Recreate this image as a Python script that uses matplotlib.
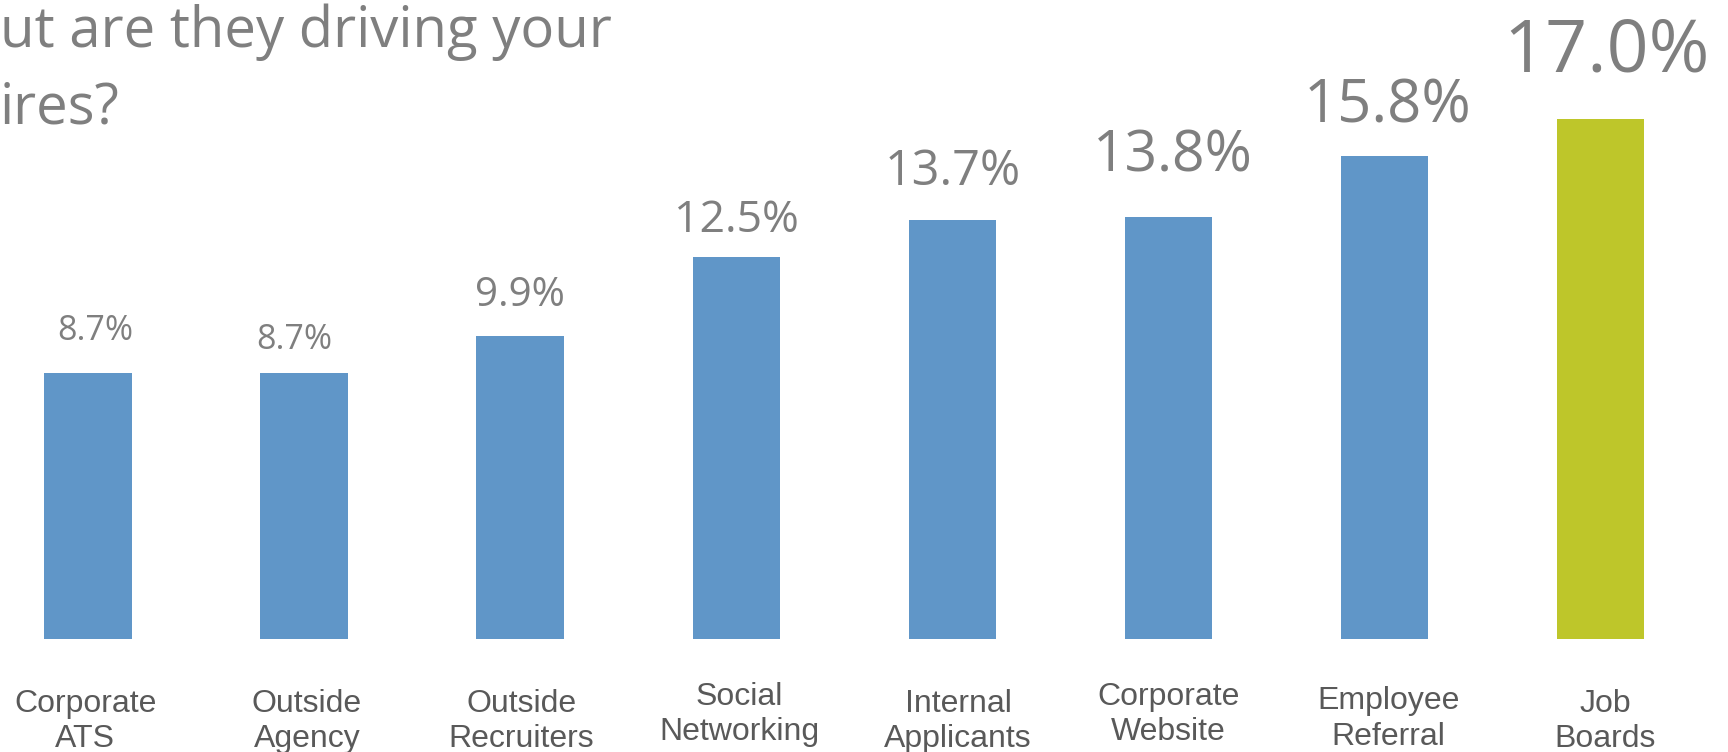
import matplotlib
matplotlib.use("Agg")
import matplotlib.pyplot as plt

# ─── Data ───
categories = ["Corporate\nATS", "Outside\nAgency", "Outside\nRecruiters",
              "Social\nNetworking", "Internal\nApplicants", "Corporate\nWebsite",
              "Employee\nReferral", "Job\nBoards"]
shares = [8.7, 8.7, 9.9, 12.5, 13.7, 13.8, 15.8, 17.0]
value_labels = ["8.7%", "8.7%", "9.9%", "12.5%", "13.7%", "13.8%", "15.8%", "17.0%"]
title_text = "ut are they driving your\nires?"

# ─── Style ───
BLUE = "#6096C8"
GREEN = "#BEC62A"
GRAY = "#7F7F7F"
DARK = "#595959"
bar_colors = [BLUE] * 7 + [GREEN]
label_sizes = [24.5, 24.5, 29, 32, 35, 41, 43, 53]  # pt, growing with value
label_gaps = [24, 17, 22, 18, 25, 33, 24, 34]       # pt above bar top
label_dx = [5, -7, 0, 0, 0, 3, 2, 4]                # pt horizontal nudge
cat_dx = [-2, 2, 1, 2, 4, 0, 3, 3]                  # pt horizontal nudge
cat_raise = [0, 0, 0, 5, 0, 5, 2, 0]                # pt vertical nudge

W, H, DPI = 1728, 752, 100
fig = plt.figure(figsize=(W / DPI, H / DPI), dpi=DPI)

# axes: bars sit on y=113px from bottom; spacing 216px, first centre 88px
px_per_unit_x = 216.1
px_per_unit_y = 30.59
bottom_px = 113
ax = fig.add_axes([0, bottom_px / H, 1, (H - bottom_px) / H])
ax.set_xlim(-88 / px_per_unit_x, (W - 88) / px_per_unit_x)
ax.set_ylim(0, (H - bottom_px) / px_per_unit_y)
ax.axis("off")

x = list(range(len(shares)))
ax.bar(x, shares, width=0.405, color=bar_colors, edgecolor="none")

for i, (v, lab) in enumerate(zip(shares, value_labels)):
    ax.annotate(lab, xy=(i, v), xytext=(label_dx[i], label_gaps[i]),
                textcoords="offset points", ha="center", va="baseline",
                fontsize=label_sizes[i], color=GRAY, family="Open Sans")

# category names under the bars (baseline of the second line, clipped by the edge)
for i, cat in enumerate(categories):
    ax.annotate(cat, xy=(i, 0), xytext=(cat_dx[i], -78 + cat_raise[i]),
                textcoords="offset points", ha="center", va="baseline",
                fontsize=23, color=DARK, linespacing=1.22,
                family=["Liberation Sans", "DejaVu Sans"], annotation_clip=False)

lines = title_text.split("\n")
fig.text(0.0, 1 - 47 / H, lines[0], ha="left", va="baseline",
         fontsize=40.5, color=GRAY, family="Open Sans")
fig.text(0.0, 1 - 124 / H, lines[1], ha="left", va="baseline",
         fontsize=40.5, color=GRAY, family="Open Sans")

fig.savefig("out.png", dpi=DPI)
